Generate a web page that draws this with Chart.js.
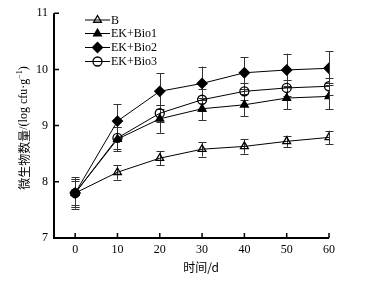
<!DOCTYPE html>
<html>
<head>
<meta charset="utf-8">
<script src="https://cdn.jsdelivr.net/npm/chart.js@4"></script>
<style>
  html, body { margin: 0; padding: 0; background: #fff; }
  #wrap { width: 366px; height: 281px; position: relative; }
</style>
</head>
<body>
<div id="wrap"><canvas id="chart" width="366" height="281"></canvas></div>
<script>
// time points (d)
const days = [0, 10, 20, 30, 40, 50, 60];

// log cfu/g
const valB    = [7.80, 8.17, 8.42, 8.58, 8.63, 8.72, 8.79];
const valBio1 = [7.80, 8.76, 9.12, 9.30, 9.37, 9.49, 9.52];
const valBio2 = [7.80, 9.08, 9.61, 9.75, 9.94, 9.99, 10.02];
const valBio3 = [7.80, 8.78, 9.22, 9.46, 9.61, 9.67, 9.70];

// error bar half-widths
const errB    = [0.25, 0.13, 0.12, 0.13, 0.13, 0.10, 0.12];
const errBio1 = [0.28, 0.22, 0.25, 0.20, 0.20, 0.20, 0.23];
const errBio2 = [0.25, 0.30, 0.32, 0.30, 0.28, 0.29, 0.30];
const errBio3 = [0.22, 0.20, 0.15, 0.20, 0.15, 0.15, 0.15];

const yTicks = [7, 8, 9, 10, 11];
const xTicks = [0, 10, 20, 30, 40, 50, 60];

const seriesNames = ['B', 'EK+Bio1', 'EK+Bio2', 'EK+Bio3'];

const serif = '"Liberation Serif", "Times New Roman", serif';
const cjk = '"Noto Sans CJK SC", "Liberation Serif", serif';

function makeSet(label, vals, errs, style, fill) {
    return {
        label: label,
        data: days.map((d, i) => ({ x: d, y: vals[i] })),
        errors: errs,
        borderColor: '#000',
        borderWidth: 1,
        pointStyle: style,
        pointRadius: style === 'rectRot' ? 5 : 4.5,
        pointBackgroundColor: fill,
        pointBorderColor: '#000',
        pointBorderWidth: 1.3,
        tension: 0,
        fill: false
    };
}

const datasets = [
    makeSet(seriesNames[0], valB, errB, 'triangle', 'rgba(255,255,255,0)'),
    makeSet(seriesNames[1], valBio1, errBio1, 'triangle', '#000'),
    makeSet(seriesNames[2], valBio2, errBio2, 'rectRot', '#000'),
    makeSet(seriesNames[3], valBio3, errBio3, 'circle', 'rgba(255,255,255,0)')
];

// error bars under the markers
const errorBars = {
    id: 'errorBars',
    beforeDatasetsDraw(chart) {
        const ctx = chart.ctx;
        const ys = chart.scales.y;
        ctx.save();
        ctx.strokeStyle = '#333';
        ctx.lineWidth = 1;
        chart.data.datasets.forEach((ds, di) => {
            const meta = chart.getDatasetMeta(di);
            meta.data.forEach((pt, i) => {
                const v = ds.data[i].y, e = ds.errors[i];
                const x = Math.round(pt.x) + 0.5;
                const top = ys.getPixelForValue(v + e);
                const bot = ys.getPixelForValue(v - e);
                ctx.beginPath();
                ctx.moveTo(x, top); ctx.lineTo(x, bot);
                ctx.moveTo(x - 4, Math.round(top) + 0.5); ctx.lineTo(x + 4, Math.round(top) + 0.5);
                ctx.moveTo(x - 4, Math.round(bot) + 0.5); ctx.lineTo(x + 4, Math.round(bot) + 0.5);
                ctx.stroke();
            });
        });
        ctx.restore();
    }
};

// axes with inward ticks, titles and legend
const decor = {
    id: 'decor',
    afterDraw(chart) {
        const ctx = chart.ctx;
        const xs = chart.scales.x, ys = chart.scales.y;
        const area = chart.chartArea;
        ctx.save();
        ctx.strokeStyle = '#000';
        ctx.lineWidth = 2;
        ctx.beginPath();
        ctx.moveTo(area.left, area.top);
        ctx.lineTo(area.left, area.bottom);
        ctx.lineTo(area.right, area.bottom);
        ctx.stroke();
        ctx.lineWidth = 1.5;
        ctx.beginPath();
        yTicks.forEach(t => {
            const y = ys.getPixelForValue(t);
            ctx.moveTo(area.left, y); ctx.lineTo(area.left + 5, y);
        });
        xTicks.forEach(t => {
            const x = xs.getPixelForValue(t);
            ctx.moveTo(x, area.bottom); ctx.lineTo(x, area.bottom - 5);
        });
        ctx.stroke();

        // axis titles
        ctx.fillStyle = '#000';
        ctx.textBaseline = 'middle';
        ctx.font = '12px ' + cjk;
        ctx.textAlign = 'center';
        ctx.fillText('时间/d', 201, 267);

        ctx.save();
        ctx.translate(24, 128);
        ctx.rotate(-Math.PI / 2);
        const parts = [
            { t: '微生物数量', f: '12px ' + cjk, dy: 0 },
            { t: '/(log cfu·g', f: '12px ' + serif, dy: 0 },
            { t: '−1', f: '8px ' + serif, dy: -4 },
            { t: ')', f: '12px ' + serif, dy: 0 }
        ];
        let total = 0;
        parts.forEach(p => { ctx.font = p.f; total += ctx.measureText(p.t).width; });
        let px = -total / 2;
        ctx.textAlign = 'left';
        parts.forEach(p => {
            ctx.font = p.f;
            ctx.fillText(p.t, px, p.dy);
            px += ctx.measureText(p.t).width;
        });
        ctx.restore();

        // legend
        const rows = [20, 33.5, 47.5, 61.5];
        chart.data.datasets.forEach((ds, i) => {
            const y = rows[i];
            ctx.strokeStyle = '#000';
            ctx.lineWidth = 1;
            ctx.beginPath();
            ctx.moveTo(85, y); ctx.lineTo(110, y);
            ctx.stroke();
            ctx.fillStyle = ds.pointBackgroundColor;
            ctx.strokeStyle = '#000';
            ctx.lineWidth = ds.pointBorderWidth;
            Chart.helpers.drawPoint(ctx, {
                pointStyle: ds.pointStyle,
                radius: ds.pointRadius,
                borderWidth: ds.pointBorderWidth
            }, 97.5, y);
            ctx.fillStyle = '#000';
            ctx.font = '12px ' + serif;
            ctx.textAlign = 'left';
            ctx.fillText(ds.label, 111, y + 0.5);
        });
        ctx.restore();
    }
};

new Chart(document.getElementById('chart'), {
    type: 'line',
    data: { datasets: datasets },
    options: {
        responsive: false,
        animation: false,
        devicePixelRatio: 1,
        layout: { padding: { top: 13, right: 37, left: 0, bottom: 0 } },
        plugins: { legend: { display: false }, tooltip: { enabled: false } },
        scales: {
            x: {
                type: 'linear',
                min: -5,
                max: 60,
                afterBuildTicks: s => { s.ticks = xTicks.map(v => ({ value: v })); },
                afterFit: s => { s.height = 43; },
                grid: { display: false, drawTicks: false },
                border: { display: false },
                ticks: {
                    color: '#000',
                    padding: 5,
                    font: { family: serif, size: 12 }
                }
            },
            y: {
                min: 7,
                max: 11,
                afterBuildTicks: s => { s.ticks = yTicks.map(v => ({ value: v })); },
                afterFit: s => { s.width = 54; },
                grid: { display: false, drawTicks: false },
                border: { display: false },
                ticks: {
                    color: '#000',
                    padding: 6,
                    font: { family: serif, size: 12 }
                }
            }
        }
    },
    plugins: [errorBars, decor]
});
</script>
</body>
</html>
